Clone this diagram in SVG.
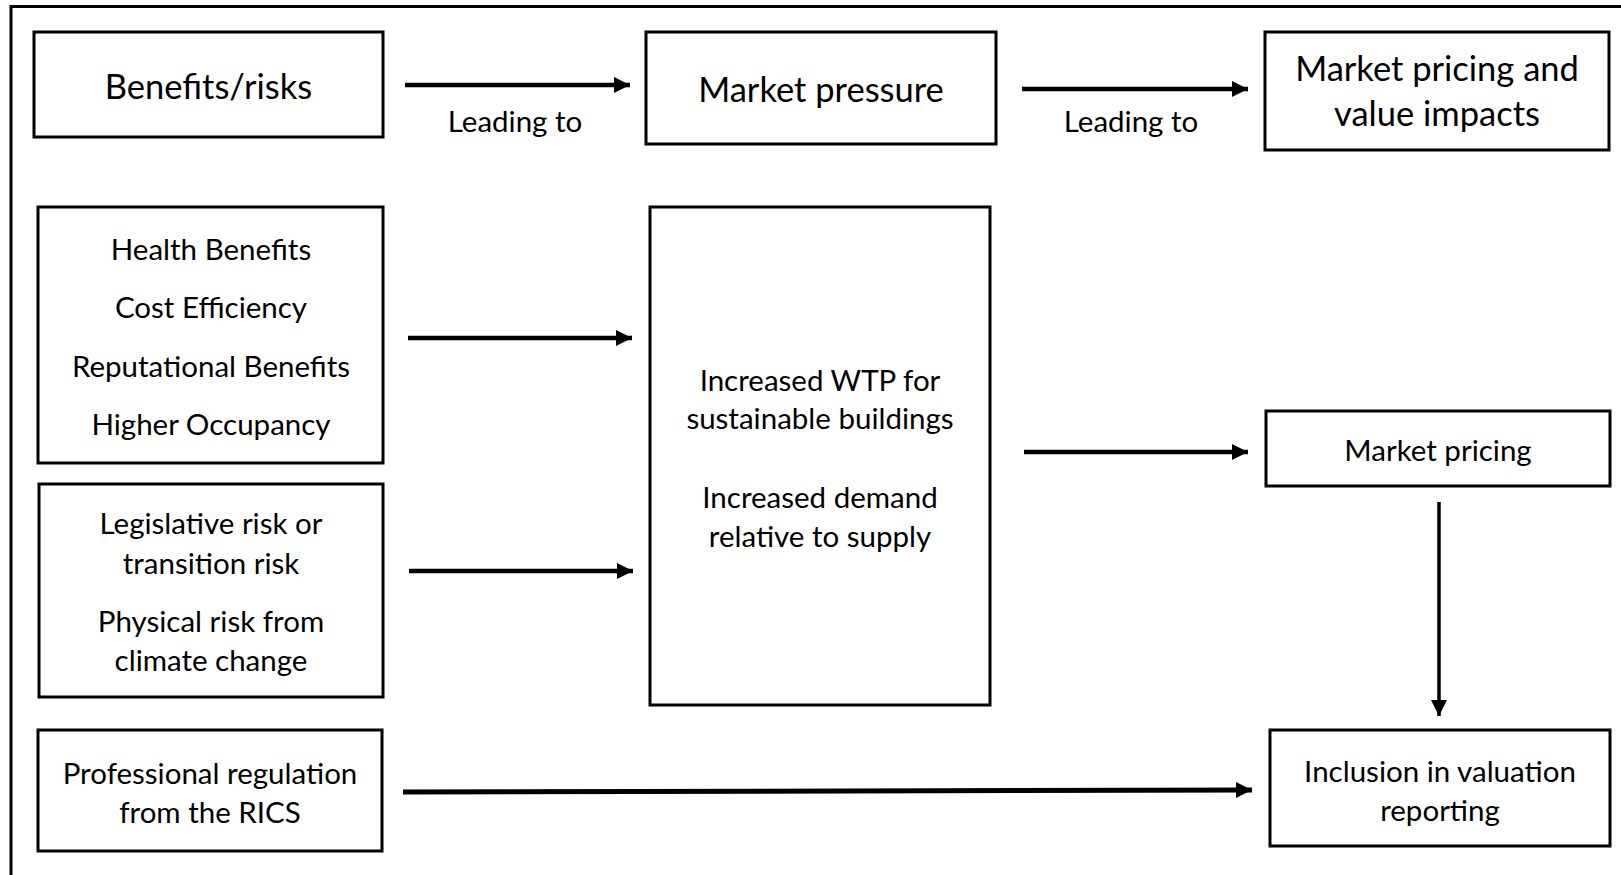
<svg xmlns="http://www.w3.org/2000/svg" width="1621" height="875" viewBox="0 0 1621 875">
<style>
.box{fill:#fff;stroke:#000;stroke-width:3}
.t{font-family:Lato,"Open Sans",sans-serif;fill:#000;text-anchor:middle}
.h{font-size:34.5px}
.b{font-size:29.5px}
.c{stroke:#000;stroke-width:4.5;fill:none;marker-end:url(#ah)}
</style>
<defs>
<marker id="ah" markerUnits="userSpaceOnUse" markerWidth="20" markerHeight="20" refX="16" refY="8" orient="auto"><path d="M0,0 L16,8 L0,16 Z" fill="#000"/></marker>
</defs>
<rect width="1621" height="875" fill="#fff"/>
<path d="M11,875 V6.5 H1621" fill="none" stroke="#000" stroke-width="3"/>
<g id="connectors">
<path class="c" d="M405,85 H630"/>
<path class="c" d="M1022,89 H1248"/>
<path class="c" d="M408,338 H632"/>
<path class="c" d="M409,571 H633"/>
<path class="c" d="M1024,452 H1248"/>
<path class="c" style="stroke-width:3.5" d="M1439,502 V716"/>
<path class="c" style="stroke-width:5" d="M403,792 L1252,790"/>
<text class="t b" x="515" y="132">Leading to</text>
<text class="t b" x="1131" y="132">Leading to</text>
</g>
<g id="benefits-risks"><rect class="box" x="34" y="32" width="349" height="105"/><text class="t h" x="208.5" y="99">Benefits/risks</text></g>
<g id="market-pressure"><rect class="box" x="646" y="32" width="350" height="112"/><text class="t h" x="821" y="102">Market pressure</text></g>
<g id="market-pricing-value"><rect class="box" x="1265" y="32" width="344" height="118"/><text class="t h" x="1437" y="81">Market pricing and</text><text class="t h" x="1437" y="126">value impacts</text></g>
<g id="benefits"><rect class="box" x="38" y="207" width="345" height="256"/>
<text class="t b" x="211" y="260">Health Benefits</text>
<text class="t b" x="211" y="318">Cost Efficiency</text>
<text class="t b" x="211" y="377">Reputational Benefits</text>
<text class="t b" x="211" y="435">Higher Occupancy</text></g>
<g id="risks"><rect class="box" x="39" y="484" width="344" height="213"/>
<text class="t b" x="211" y="534">Legislative risk or</text>
<text class="t b" x="211" y="574">transition risk</text>
<text class="t b" x="211" y="632">Physical risk from</text>
<text class="t b" x="211" y="671">climate change</text></g>
<g id="regulation"><rect class="box" x="38" y="730" width="344" height="121"/>
<text class="t b" x="210" y="784">Professional regulation</text>
<text class="t b" x="210" y="823">from the RICS</text></g>
<g id="demand"><rect class="box" x="650" y="207" width="340" height="498"/>
<text class="t b" x="820" y="391">Increased WTP for</text>
<text class="t b" x="820" y="429">sustainable buildings</text>
<text class="t b" x="820" y="508">Increased demand</text>
<text class="t b" x="820" y="547">relative to supply</text></g>
<g id="market-pricing"><rect class="box" x="1266" y="411" width="344" height="75"/>
<text class="t b" x="1438" y="461">Market pricing</text></g>
<g id="valuation"><rect class="box" x="1270" y="730" width="340" height="116"/>
<text class="t b" x="1440" y="782">Inclusion in valuation</text>
<text class="t b" x="1440" y="821">reporting</text></g>
</svg>
